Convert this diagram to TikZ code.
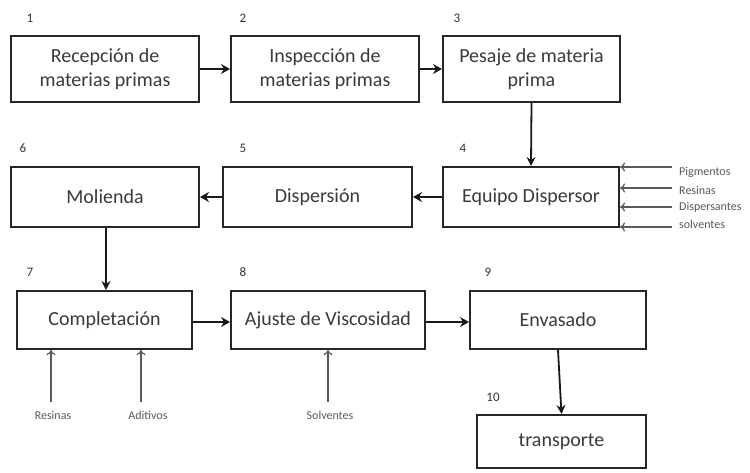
\documentclass[tikz,border=0pt]{standalone}
\usepackage{fontspec}
\setmainfont{Carlito}
\usetikzlibrary{arrows.meta,calc}
\definecolor{txt}{HTML}{3A3A3A}
\definecolor{thin}{HTML}{5A5A5A}
\tikzset{
  procbox/.style={draw=black!85, line width=2pt, fill=white, align=center, text=txt,
    font=\fontsize{20}{24}\selectfont, inner sep=0pt},
  numlbl/.style={text=black!80, font=\fontsize{13}{15}\selectfont, inner sep=0pt},
  inlbl/.style={text=thin, font=\fontsize{12}{14}\selectfont, inner sep=0pt},
  flow/.style={draw=black!90, line width=2.6pt, -{Stealth[length=9pt,width=10pt,inset=3pt]}},
  flowv/.style={draw=black!90, line width=1.8pt, -{Stealth[length=9pt,width=9pt,inset=3pt]}},
  feed/.style={draw=thin, line width=1.2pt, -{To[length=5pt,width=9pt]}}
}
\begin{document}
\begin{tikzpicture}[x=1pt,y=-1pt]
\useasboundingbox[fill=white] (0,0) rectangle (750,472);
% boxes
\node[procbox, minimum width=188, minimum height=66] (b1) at (105,69) {Recepción de\\materias primas};
\node[procbox, minimum width=188, minimum height=66] (b2) at (325,69) {Inspección de\\materias primas};
\node[procbox, minimum width=177, minimum height=66] (b3) at (531.5,69) {Pesaje de materia\\prima};
\node[procbox, minimum width=176, minimum height=60] (b4) at (531,197) {Equipo Dispersor};
\node[procbox, minimum width=189, minimum height=60] (b5) at (317.5,197) {Dispersión};
\node[procbox, minimum width=188, minimum height=60] (b6) at (105,197) {Molienda};
\node[procbox, minimum width=175, minimum height=58] (b7) at (104.5,320) {Completación};
\node[procbox, minimum width=194, minimum height=58] (b8) at (328,320) {Ajuste de Viscosidad};
\node[procbox, minimum width=176, minimum height=58] (b9) at (558,320) {Envasado};
\node[procbox, minimum width=169, minimum height=53] (b10) at (561.5,441.5) {transporte};
% numbers
\node[numlbl] (n1) at (30,18) {1};
\node[numlbl] (n2) at (243,18) {2};
\node[numlbl] (n3) at (457,18) {3};
\node[numlbl] (n4) at (463,148) {4};
\node[numlbl] (n5) at (243,148) {5};
\node[numlbl] (n6) at (23,148) {6};
\node[numlbl] (n7) at (30,272) {7};
\node[numlbl] (n8) at (243,272) {8};
\node[numlbl] (n9) at (488,272) {9};
\node[numlbl] (n10) at (493,397) {10};
% main flow
\draw[flow] (b1) -- (b2);
\draw[flow] (b2) -- (b3);
\draw[flowv] (b3.south) -- (b4.north);
\draw[flow] (b4) -- (b5);
\draw[flow] (b5) -- (b6);
\draw[flowv] ($(b6.south)+(1,0)$) -- ($(b6.south |- b7.north)+(1,0)$);
\draw[flow] (b7.east |- 0,322) -- (b8.west |- 0,322);
\draw[flow] (b8.east |- 0,322) -- (b9.west |- 0,322);
\draw[flowv] (b9.south) -- (b10.north);
% side inputs to equipo dispersor
\coordinate (s1) at (672,167);
\coordinate (s2) at (672,188);
\coordinate (s3) at (672,207);
\coordinate (s4) at (672,227);
\draw[feed] (s1) -- (b4.east |- s1);
\draw[feed] (s2) -- (b4.east |- s2);
\draw[feed] (s3) -- (b4.east |- s3);
\draw[feed] (s4) -- (b4.east |- s4);
\node[inlbl, anchor=west] (l1) at (679,172) {Pigmentos};
\node[inlbl, anchor=west] (l2) at (679,190) {Resinas};
\node[inlbl, anchor=west] (l3) at (679,207) {Dispersantes};
\node[inlbl, anchor=west] (l4) at (679,224) {solventes};
% bottom inputs
\node[inlbl] (r1) at (53,415) {Resinas};
\node[inlbl] (r2) at (148,415) {Aditivos};
\node[inlbl] (r3) at (330,415) {Solventes};
\draw[feed] (51,402) -- (b7.south -| 51,0);
\draw[feed] (141,402) -- (b7.south -| 141,0);
\draw[feed] (328,402) -- (b8.south -| 328,0);
\end{tikzpicture}
\end{document}
